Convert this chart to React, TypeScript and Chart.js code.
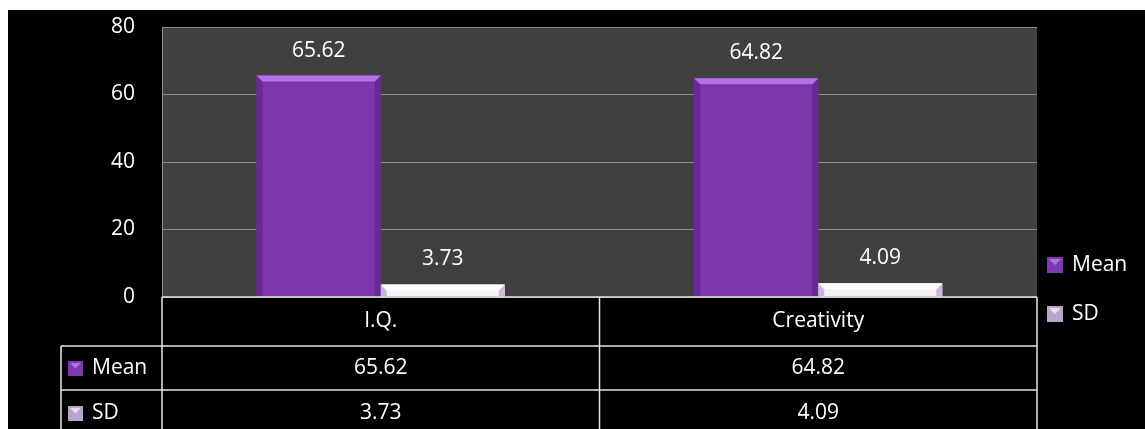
import React, { useEffect, useRef } from "react";
import { Chart, registerables } from "chart.js";

Chart.register(...registerables);

const categories = ["I.Q.", "Creativity"];
const seriesNames = ["Mean", "SD"];
const meanValues = [65.62, 64.82];
const sdValues = [3.73, 4.09];
const yTicks = [0, 20, 40, 60, 80];

const FONT = '"Open Sans", "DejaVu Sans", sans-serif';
const FSIZE = 21;
const FILL = ["#7B37AB", "#F7F0FB"];
const TOPC = ["#B571E8", "#FFFFFF"];
const SIDEC = ["#6A2A96", "#CDB5DD"];
const ICON = ["#7D3AAE", "#B7A6CA"];
const ICON_HI = ["#B070E0", "#E8DDF2"];

function drawIcon(ctx: CanvasRenderingContext2D, x: number, y: number, s: number, i: number) {
  ctx.fillStyle = ICON[i];
  ctx.fillRect(x, y, s, s);
  ctx.fillStyle = ICON_HI[i];
  ctx.beginPath();
  ctx.moveTo(x + 2, y + 2);
  ctx.lineTo(x + s - 2, y + 2);
  ctx.lineTo(x + s / 2, y + s / 2);
  ctx.closePath();
  ctx.fill();
}

const customPlugin = {
  id: "custom",
  beforeDraw(chart: any) {
    const { ctx, chartArea } = chart;
    ctx.save();
    ctx.fillStyle = "#000000";
    ctx.fillRect(0, 0, chart.width, chart.height);
    ctx.fillStyle = "#404040";
    ctx.fillRect(chartArea.left, chartArea.top, chartArea.right - chartArea.left, chartArea.bottom - chartArea.top);
    ctx.restore();
  },
  afterDatasetsDraw(chart: any) {
    const { ctx } = chart;
    ctx.save();
    chart.data.datasets.forEach((ds: any, di: number) => {
      const meta = chart.getDatasetMeta(di);
      meta.data.forEach((el: any, i: number) => {
        const w = el.width;
        const left = el.x - w / 2;
        const right = el.x + w / 2;
        const top = el.y;
        const bottom = el.base;
        const b = Math.min(6, (bottom - top) / 2);
        ctx.fillStyle = SIDEC[di];
        ctx.beginPath();
        ctx.moveTo(left, top);
        ctx.lineTo(left + b, top + b);
        ctx.lineTo(left + b, bottom);
        ctx.lineTo(left, bottom);
        ctx.closePath();
        ctx.fill();
        ctx.beginPath();
        ctx.moveTo(right, top);
        ctx.lineTo(right - b, top + b);
        ctx.lineTo(right - b, bottom);
        ctx.lineTo(right, bottom);
        ctx.closePath();
        ctx.fill();
        ctx.fillStyle = TOPC[di];
        ctx.beginPath();
        ctx.moveTo(left, top);
        ctx.lineTo(right, top);
        ctx.lineTo(right - b, top + b);
        ctx.lineTo(left + b, top + b);
        ctx.closePath();
        ctx.fill();
        ctx.fillStyle = "#FFFFFF";
        ctx.font = `${FSIZE}px ${FONT}`;
        ctx.textAlign = "center";
        ctx.textBaseline = "middle";
        ctx.fillText(ds.data[i].toFixed(2), el.x, top - 25);
      });
    });
    ctx.restore();
  },
  afterDraw(chart: any) {
    const { ctx, chartArea, scales } = chart;
    const xs = scales.x;
    const L = chartArea.left;
    const R = chartArea.right;
    const T = chartArea.bottom;
    const rows = [T, T + 49, T + 93, T + 139];
    const headerLeft = 53;
    const mid = (xs.getPixelForValue(0) + xs.getPixelForValue(1)) / 2;
    ctx.save();
    ctx.strokeStyle = "#E6E6E6";
    ctx.lineWidth = 1.5;
    ctx.beginPath();
    ctx.moveTo(L, rows[0]);
    ctx.lineTo(R, rows[0]);
    ctx.moveTo(headerLeft, rows[1]);
    ctx.lineTo(R, rows[1]);
    ctx.moveTo(headerLeft, rows[2]);
    ctx.lineTo(R, rows[2]);
    ctx.moveTo(headerLeft, rows[3]);
    ctx.lineTo(R, rows[3]);
    ctx.moveTo(L, rows[0]);
    ctx.lineTo(L, rows[3]);
    ctx.moveTo(mid, rows[0]);
    ctx.lineTo(mid, rows[3]);
    ctx.moveTo(R, rows[0]);
    ctx.lineTo(R, rows[3]);
    ctx.moveTo(headerLeft, rows[1]);
    ctx.lineTo(headerLeft, rows[3]);
    ctx.stroke();

    ctx.fillStyle = "#FFFFFF";
    ctx.font = `${FSIZE}px ${FONT}`;
    ctx.textAlign = "center";
    ctx.textBaseline = "middle";
    const dataRows = [meanValues, sdValues];
    categories.forEach((c, i) => {
      const cx = xs.getPixelForValue(i);
      ctx.fillText(c, cx, (rows[0] + rows[1]) / 2);
      dataRows.forEach((vals, r) => {
        ctx.fillText(vals[i].toFixed(2), cx, (rows[r + 1] + rows[r + 2]) / 2);
      });
    });
    ctx.textAlign = "left";
    seriesNames.forEach((n, r) => {
      const cy = (rows[r + 1] + rows[r + 2]) / 2;
      drawIcon(ctx, headerLeft + 7, cy - 7, 15, r);
      ctx.fillStyle = "#FFFFFF";
      ctx.fillText(n, headerLeft + 31, cy);
    });
    const legendY = [255, 304];
    seriesNames.forEach((n, r) => {
      drawIcon(ctx, 1039, legendY[r] - 8, 16, r);
      ctx.fillStyle = "#FFFFFF";
      ctx.textAlign = "left";
      ctx.fillText(n, 1064, legendY[r]);
    });
    ctx.restore();
  },
};

export default function App() {
  const ref = useRef<HTMLCanvasElement | null>(null);
  useEffect(() => {
    document.body.style.overflow = "hidden";
    const chart = new Chart(ref.current as HTMLCanvasElement, {
      type: "bar",
      data: {
        labels: categories,
        datasets: [
          { label: seriesNames[0], data: meanValues, backgroundColor: FILL[0] },
          { label: seriesNames[1], data: sdValues, backgroundColor: FILL[1] },
        ],
      },
      options: {
        responsive: false,
        animation: false,
        layout: { padding: { left: 0, top: 17, right: 108, bottom: 132 } },
        datasets: { bar: { categoryPercentage: 0.567, barPercentage: 1 } },
        plugins: { legend: { display: false }, tooltip: { enabled: false } },
        scales: {
          x: { display: false },
          y: {
            min: 0,
            max: 80,
            afterFit: (s: any) => {
              s.width = 154;
              s.paddingTop = 0;
              s.paddingBottom = 0;
            },
            afterBuildTicks: (s: any) => {
              s.ticks = yTicks.map((v) => ({ value: v }));
            },
            grid: { color: "#8C8C8C", lineWidth: 1, drawTicks: false },
            border: { display: true, color: "#8C8C8C" },
            ticks: {
              color: "#FFFFFF",
              padding: 27,
              font: { family: FONT, size: FSIZE },
            },
          },
        },
      },
      plugins: [customPlugin],
    } as any);
    return () => chart.destroy();
  }, []);
  return (
    <canvas
      ref={ref}
      width={1137}
      height={419}
      style={{ position: "absolute", left: 8, top: 10, width: 1137, height: 419, display: "block" }}
    />
  );
}
